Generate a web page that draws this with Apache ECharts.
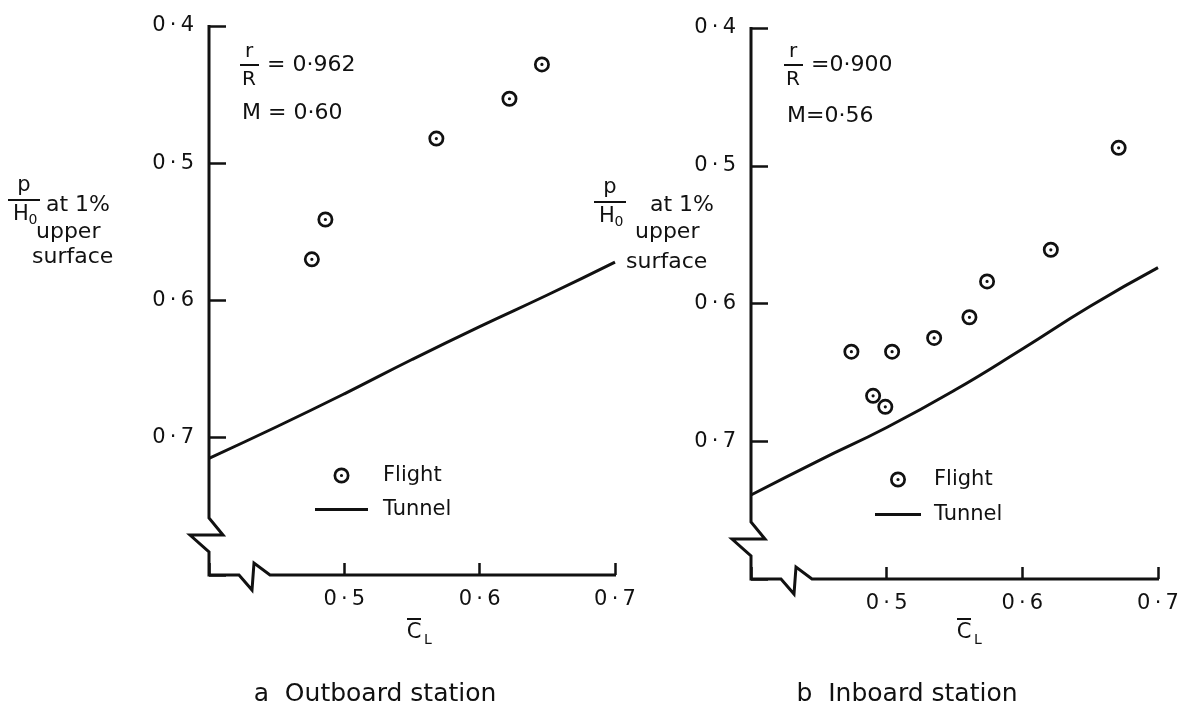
<!DOCTYPE html>
<html>
<head>
<meta charset="utf-8">
<script src="https://cdn.jsdelivr.net/npm/echarts@6/dist/echarts.min.js"></script>
<style>
  html, body { margin: 0; padding: 0; background: #fff; }
  #main { width: 1189px; height: 715px; }
</style>
</head>
<body>
<div id="main"></div>
<script>
// ---- data ----
const xRange = [0.4, 0.7];          // C_L axis
const yRange = [0.4, 0.8];          // p/H0 axis (inverted)
const tickStep = 0.1;

// a  Outboard station, r/R = 0.962, M = 0.60
const outFlightCL = [0.476, 0.486, 0.568, 0.622, 0.646];
const outFlightP  = [0.570, 0.541, 0.482, 0.453, 0.428];
const outTunnelCL = [0.40, 0.45, 0.50, 0.55, 0.60, 0.65, 0.70];
const outTunnelP  = [0.715, 0.692, 0.668, 0.643, 0.619, 0.596, 0.572];

// b  Inboard station, r/R = 0.900, M = 0.56
const inFlightCL = [0.474, 0.490, 0.499, 0.504, 0.535, 0.561, 0.574, 0.621, 0.671];
const inFlightP  = [0.635, 0.667, 0.675, 0.635, 0.625, 0.610, 0.584, 0.561, 0.487];
const inTunnelCL = [0.40, 0.45, 0.50, 0.55, 0.60, 0.65, 0.70];
const inTunnelP  = [0.739, 0.714, 0.690, 0.663, 0.633, 0.602, 0.574];

const seriesNames = ['Flight', 'Tunnel'];
const panelCaptions = ['a  Outboard station', 'b  Inboard station'];
const panelParams = [['= 0·962', 'M = 0·60'], ['=0·900', 'M=0·56']];

// ---- styling ----
const INK = '#111';
const FONT = 'DejaVu Sans';
const ring = 'path://M0,-10A10,10,0,1,1,0,10A10,10,0,1,1,0,-10Z' +
             'M0,-6.6A6.6,6.6,0,1,0,0,6.6A6.6,6.6,0,1,0,0,-6.6Z' +
             'M0,-2A2,2,0,1,1,0,2A2,2,0,1,1,0,-2Z';
const bar = 'path://M0,0L50,0L50,3L0,3Z';

function zip(a, b) { return a.map((v, i) => [v, b[i]]); }
function fmt(v) { return (Math.round(v * 10) / 10).toFixed(1).replace('.', '\u2009·\u2009'); }

const grids = [
  { left: 209, top: 26, width: 406, height: 549 },
  { left: 751, top: 28, width: 407, height: 551 }
];

function xAxisFor(gi) {
  return {
    type: 'value', gridIndex: gi, min: xRange[0], max: xRange[1], interval: tickStep,
    axisLine: { show: false },
    axisTick: { inside: true, length: 12, lineStyle: { color: INK, width: 2.5 } },
    splitLine: { show: false },
    axisLabel: {
      margin: 14, color: INK, fontFamily: FONT, fontSize: 21,
      formatter: v => Math.abs(v - xRange[0]) < 1e-6 ? '' : fmt(v)
    }
  };
}
function yAxisFor(gi) {
  return {
    type: 'value', gridIndex: gi, min: yRange[0], max: yRange[1], interval: tickStep, inverse: true,
    axisLine: { show: false },
    axisTick: { inside: true, length: 17, lineStyle: { color: INK, width: 2.5 } },
    splitLine: { show: false },
    axisLabel: {
      margin: 15, color: INK, fontFamily: FONT, fontSize: 21,
      formatter: v => Math.abs(v - yRange[1]) < 1e-6 ? '' : fmt(v)
    }
  };
}

function flight(gi, cl, p) {
  return {
    name: seriesNames[0], type: 'scatter', xAxisIndex: gi, yAxisIndex: gi,
    data: zip(cl, p), symbol: ring, symbolSize: 16,
    itemStyle: { color: INK, opacity: 1 }, z: 5
  };
}
function tunnel(gi, cl, p) {
  return {
    name: seriesNames[1], type: 'line', xAxisIndex: gi, yAxisIndex: gi,
    data: zip(cl, p), smooth: true, symbol: 'none', showSymbol: false,
    lineStyle: { color: INK, width: 3 }, itemStyle: { color: INK }, z: 4
  };
}

function legendFor(left, top, w, gap, pad) {
  return {
    data: [{ name: seriesNames[0], icon: ring }, { name: seriesNames[1], icon: bar }],
    orient: 'vertical', left: left, top: top, padding: 0,
    itemWidth: w, itemHeight: 16, itemGap: gap, selectedMode: false,
    itemStyle: { color: INK, opacity: 1 },
    textStyle: { color: INK, fontFamily: FONT, fontSize: 21, padding: [0, 0, 0, pad] }
  };
}

const option = {
  animation: false,
  backgroundColor: '#fff',
  grid: grids,
  xAxis: [xAxisFor(0), xAxisFor(1)],
  yAxis: [yAxisFor(0), yAxisFor(1)],
  legend: [legendFor(315, 465, 53, 13, 10), legendFor(875, 469, 46, 14, 8)],
  series: [
    flight(0, outFlightCL, outFlightP),
    tunnel(0, outTunnelCL, outTunnelP),
    flight(1, inFlightCL, inFlightP),
    tunnel(1, inTunnelCL, inTunnelP)
  ]
};

const chart = echarts.init(document.getElementById('main'), null, { renderer: 'canvas' });
chart.setOption(option);

// ---- decorations: broken axes, axis titles, annotations, captions ----
function txt(x, y, s, size, align) {
  return {
    type: 'text', x: x, y: y, z: 20,
    style: { text: s, fill: INK, font: size + 'px "' + FONT + '"', align: align || 'left', verticalAlign: 'middle' }
  };
}
function seg(x1, y1, x2, y2, w) {
  return { type: 'line', z: 20, shape: { x1: x1, y1: y1, x2: x2, y2: y2 }, style: { stroke: INK, lineWidth: w || 2 } };
}
function axisFrame(gi) {
  const o = chart.convertToPixel({ gridIndex: gi }, [xRange[0], yRange[1]]);
  const t = chart.convertToPixel({ gridIndex: gi }, [xRange[0], yRange[0]]);
  const e = chart.convertToPixel({ gridIndex: gi }, [xRange[1], yRange[1]]);
  const x0 = o[0], yb = o[1];
  const pts = [[x0, t[1] - 1], [x0, yb - 57], [x0 + 14, yb - 40], [x0 - 19, yb - 40], [x0, yb - 23], [x0, yb],
               [x0 + 30, yb], [x0 + 43, yb + 15], [x0 + 45, yb - 12], [x0 + 61, yb], [e[0] + 1, yb]];
  return { type: 'polyline', z: 15, shape: { points: pts }, style: { stroke: INK, lineWidth: 3, fill: null, lineJoin: 'miter' } };
}
function yTitle(cx, barY, atX, upX, surfX, lines) {
  return [
    txt(cx, barY - 14, 'p', 21, 'center'),
    seg(cx - 16, barY, cx + 16, barY, 2),
    txt(cx - 3, barY + 15, 'H', 21, 'center'),
    txt(cx + 9, barY + 20, '0', 14, 'center'),
    txt(atX, lines[0], 'at 1%', 22),
    txt(upX, lines[1], 'upper', 22),
    txt(surfX, lines[2], 'surface', 22)
  ];
}
function ratio(cx, barY, x, s1, mx, my, s2) {
  return [
    txt(cx, barY - 13, 'r', 20, 'center'),
    seg(cx - 9, barY, cx + 10, barY, 2),
    txt(cx, barY + 15, 'R', 20, 'center'),
    txt(x, barY, s1, 22),
    txt(mx, my, s2, 22)
  ];
}
function clName(cx, cy) {
  return [
    txt(cx, cy, 'C', 21, 'center'),
    seg(cx - 7, cy - 14, cx + 7, cy - 14, 2),
    txt(cx + 14, cy + 7, 'L', 14, 'center')
  ];
}

const graphics = [].concat(
  [axisFrame(0), axisFrame(1)],
  yTitle(24, 200, 46, 36, 32, [205, 232, 257]),
  yTitle(610, 202, 650, 635, 626, [205, 232, 262]),
  ratio(249, 65, 267, panelParams[0][0], 242, 113, panelParams[0][1]),
  ratio(793, 65, 811, panelParams[1][0], 787, 116, panelParams[1][1]),
  clName(414, 633),
  clName(964, 633),
  [txt(375, 694, panelCaptions[0], 25, 'center'), txt(907, 694, panelCaptions[1], 25, 'center')]
);
chart.setOption({ graphic: graphics });
</script>
</body>
</html>
